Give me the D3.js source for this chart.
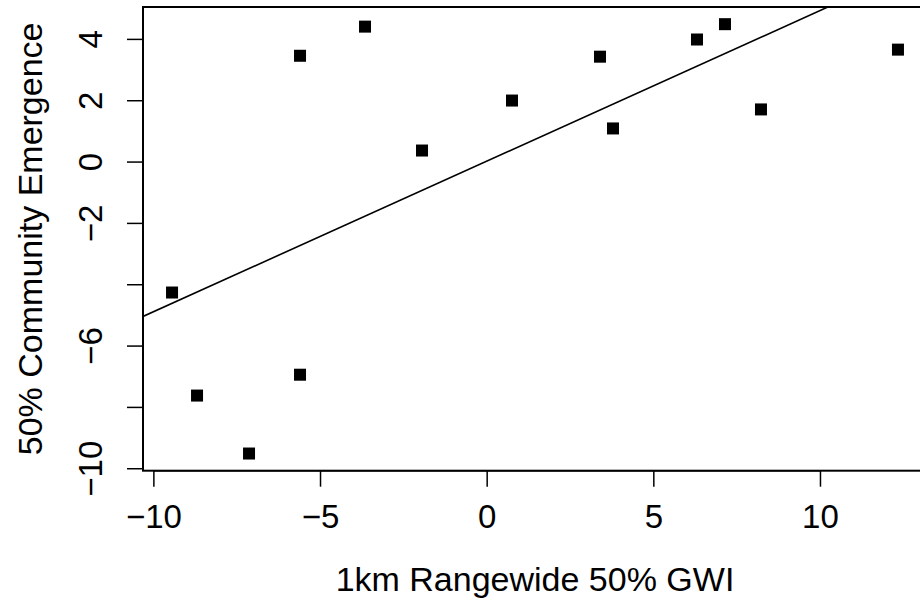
<!DOCTYPE html>
<html>
<head>
<meta charset="utf-8">
<script src="https://cdn.jsdelivr.net/npm/d3@7"></script>
<style>
  body { margin: 0; background: #fff; }
  svg { display: block; }
  text { font-family: "Liberation Sans", Arial, Helvetica, sans-serif; fill: #000; }
</style>
</head>
<body>
<svg id="chart" width="920" height="608"></svg>
<script>
// 1km rangewide 50% GWI vs 50% community emergence
const gwi = [-5.60, -3.65, 0.76, -1.94, 3.40, 3.79, 6.31, 7.15, 8.23, 12.34, -9.44, -8.69, -7.13, -5.60]
const emergence = [3.45, 4.40, 1.99, 0.36, 3.42, 1.08, 3.98, 4.48, 1.70, 3.65, -4.27, -7.63, -9.52, -6.95]
const xTicks = [-10, -5, 0, 5, 10]
const yTicks = [-10, -8, -6, -4, -2, 0, 2, 4]
// R dropped the overlapping labels at -4 and -8
const yLabels = [-10, -6, -2, 0, 2, 4]
const xTitle = '1km Rangewide 50% GWI'
const yTitle = '50% Community Emergence'

const plot = { left: 143, right: 927, top: 7, bottom: 470.7 }
const fontSize = 33

// R style axis range: data extent padded by 4% on each side
function padded (values) {
  const [lo, hi] = d3.extent(values)
  const pad = (hi - lo) * 0.04
  return [lo - pad, hi + pad]
}

// least squares fit, as abline(lm(y ~ x))
function fit (xs, ys) {
  const mx = d3.mean(xs)
  const my = d3.mean(ys)
  const sxy = d3.sum(xs, (x, i) => (x - mx) * (ys[i] - my))
  const sxx = d3.sum(xs, x => (x - mx) * (x - mx))
  const slope = sxy / sxx
  return { slope, intercept: my - slope * mx }
}

const svg = d3.select('#chart')
const x = d3.scaleLinear().domain(padded(gwi)).range([plot.left, plot.right])
const y = d3.scaleLinear().domain(padded(emergence)).range([plot.bottom, plot.top])
const fmt = d3.format('d')

svg.append('clipPath').attr('id', 'plot-clip')
  .append('rect')
  .attr('x', plot.left).attr('y', plot.top)
  .attr('width', plot.right - plot.left).attr('height', plot.bottom - plot.top)

// x axis
const xAxis = svg.append('g')
  .attr('transform', `translate(0,${plot.bottom})`)
  .call(d3.axisBottom(x).tickValues(xTicks).tickSize(16).tickFormat(fmt))
xAxis.select('.domain').remove()
xAxis.selectAll('.tick line').attr('stroke', '#000').attr('stroke-width', 1.5)
xAxis.selectAll('.tick text')
  .attr('y', 57).attr('dy', null)
  .style('font-size', fontSize + 'px')
  .style('font-family', null)

// y axis, labels rotated like R's default las = 0
const yAxis = svg.append('g')
  .attr('transform', `translate(${plot.left},0)`)
  .call(d3.axisLeft(y).tickValues(yTicks).tickSize(16)
    .tickFormat(v => yLabels.includes(v) ? fmt(v) : ''))
yAxis.select('.domain').remove()
yAxis.selectAll('.tick line').attr('stroke', '#000').attr('stroke-width', 1.5)
yAxis.selectAll('.tick text')
  .attr('x', null).attr('dy', null)
  .attr('text-anchor', 'middle')
  .attr('transform', `translate(${101.5 - plot.left},0) rotate(-90)`)
  .style('font-size', fontSize + 'px')
  .style('font-family', null)

// axis lines between the end ticks
svg.append('line')
  .attr('x1', x(xTicks[0])).attr('x2', x(xTicks[xTicks.length - 1]))
  .attr('y1', plot.bottom).attr('y2', plot.bottom)
  .attr('stroke', '#000').attr('stroke-width', 1.5)
svg.append('line')
  .attr('x1', plot.left).attr('x2', plot.left)
  .attr('y1', y(yTicks[0])).attr('y2', y(yTicks[yTicks.length - 1]))
  .attr('stroke', '#000').attr('stroke-width', 1.5)

// regression line
const lm = fit(gwi, emergence)
const [x0, x1] = x.domain()
svg.append('line')
  .attr('clip-path', 'url(#plot-clip)')
  .attr('x1', x(x0)).attr('y1', y(lm.intercept + lm.slope * x0))
  .attr('x2', x(x1)).attr('y2', y(lm.intercept + lm.slope * x1))
  .attr('stroke', '#000').attr('stroke-width', 1.6)

// points, pch = 15
const size = 12
svg.append('g').selectAll('rect')
  .data(gwi.map((v, i) => [v, emergence[i]]))
  .join('rect')
  .attr('x', d => x(d[0]) - size / 2)
  .attr('y', d => y(d[1]) - size / 2)
  .attr('width', size).attr('height', size)
  .attr('fill', '#000')

// box
svg.append('rect')
  .attr('x', plot.left).attr('y', plot.top)
  .attr('width', plot.right - plot.left).attr('height', plot.bottom - plot.top)
  .attr('fill', 'none').attr('stroke', '#000').attr('stroke-width', 2)

// titles
svg.append('text')
  .attr('x', (plot.left + plot.right) / 2).attr('y', 591)
  .attr('text-anchor', 'middle')
  .style('font-size', '34px')
  .text(xTitle)
svg.append('text')
  .attr('transform', `translate(41.5,${(plot.top + plot.bottom) / 2}) rotate(-90)`)
  .attr('text-anchor', 'middle')
  .style('font-size', '34px')
  .text(yTitle)
</script>
</body>
</html>
